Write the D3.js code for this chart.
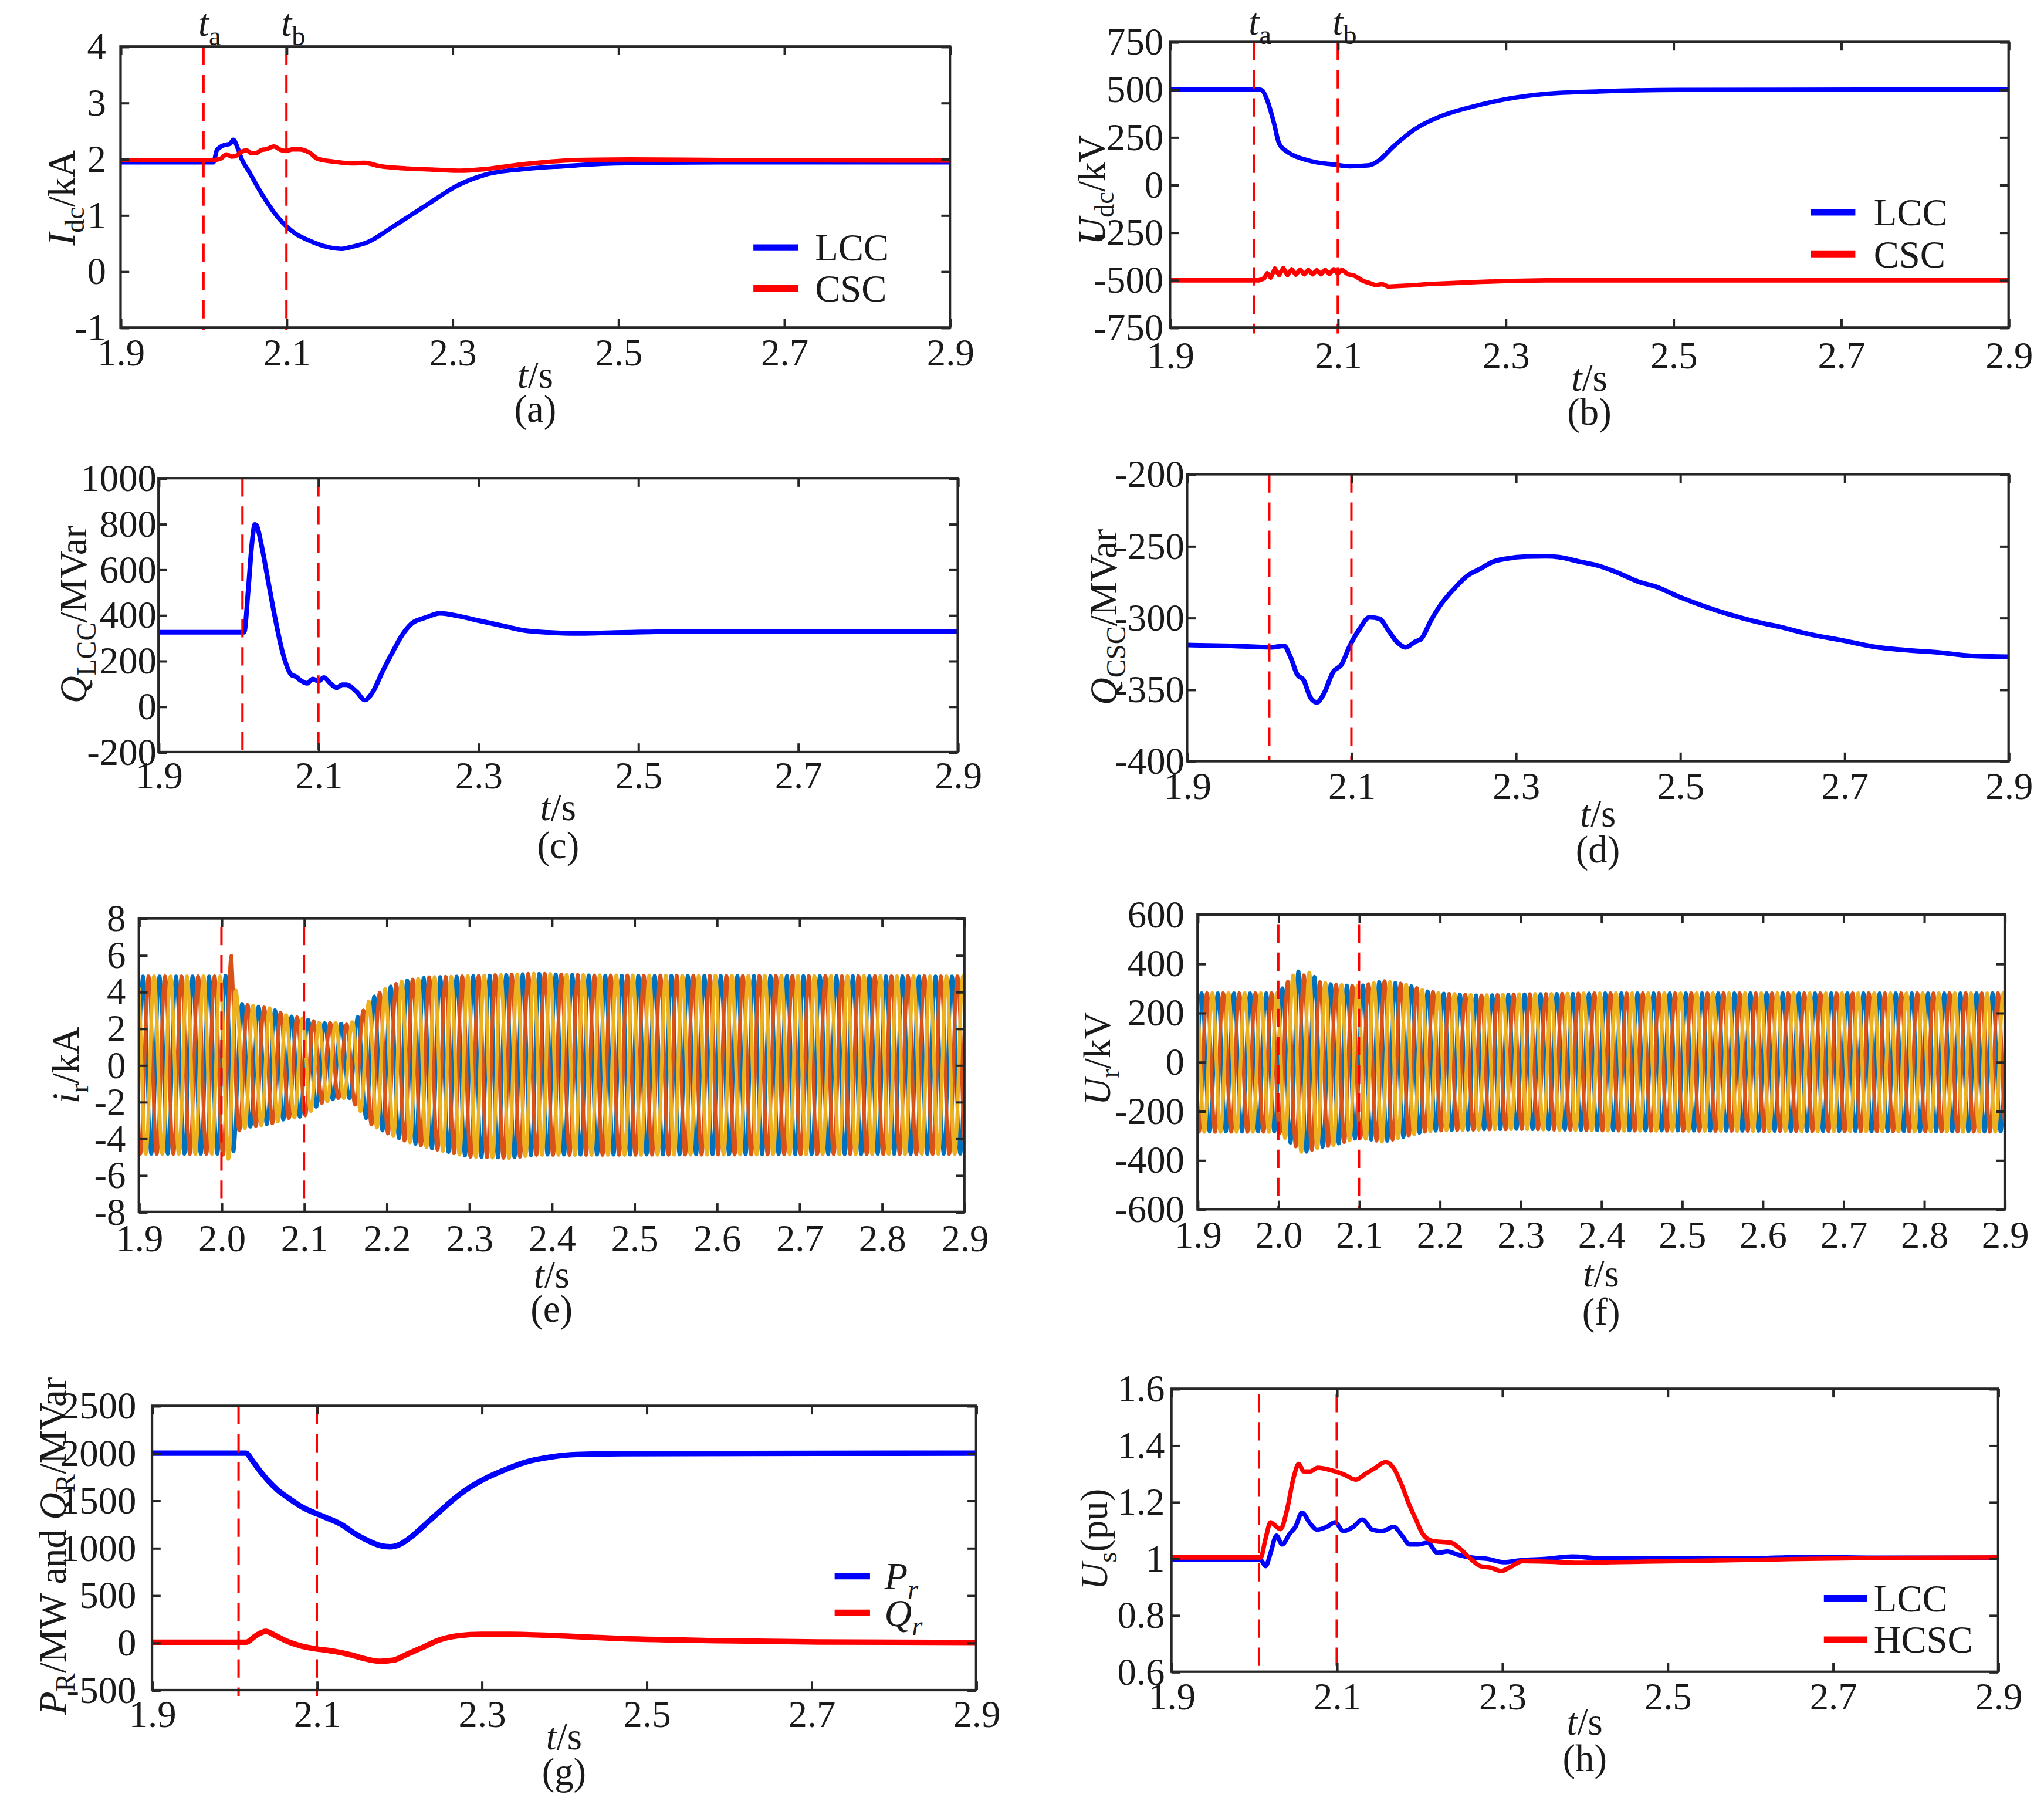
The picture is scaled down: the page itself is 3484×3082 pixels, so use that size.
<!DOCTYPE html>
<html>
<head>
<meta charset="utf-8">
<script src="https://cdn.jsdelivr.net/npm/d3@7"></script>
<style>
body { margin: 0; background: #fff; }
svg { display: block; }
text { font-family: "Liberation Serif", "Times New Roman", serif; fill: #1a1a1a; }
</style>
</head>
<body>
<script>

// ---- data ----
var xTicksWide = [1.9, 2.1, 2.3, 2.5, 2.7, 2.9];
var xTicksFine = [1.9, 2.0, 2.1, 2.2, 2.3, 2.4, 2.5, 2.6, 2.7, 2.8, 2.9];

var yTicksA = [-1, 0, 1, 2, 3, 4];
var yTicksB = [-750, -500, -250, 0, 250, 500, 750];
var yTicksC = [-200, 0, 200, 400, 600, 800, 1000];
var yTicksD = [-400, -350, -300, -250, -200];
var yTicksE = [-8, -6, -4, -2, 0, 2, 4, 6, 8];
var yTicksF = [-600, -400, -200, 0, 200, 400, 600];
var yTicksG = [-500, 0, 500, 1000, 1500, 2000, 2500];
var yTicksH = [0.6, 0.8, 1.0, 1.2, 1.4, 1.6];

var faultMarks = [2.0, 2.1];
var faultMarksLate = [2.005, 2.1];

// (a) DC current, kA
var idcLCC = [[1.9,1.94],[2.012,1.94],[2.016,2.15],[2.024,2.24],[2.032,2.27],[2.036,2.34],[2.041,2.2],
  [2.046,2.0],[2.055,1.77],[2.071,1.36],[2.085,1.05],[2.1,0.8],[2.111,0.67],[2.127,0.55],[2.145,0.45],
  [2.166,0.40],[2.18,0.44],[2.198,0.52],[2.229,0.80],[2.269,1.18],[2.308,1.54],[2.34,1.72],[2.387,1.82],
  [2.434,1.87],[2.497,1.92],[2.624,1.94],[2.9,1.94]];
var idcCSC = [[1.9,1.98],[2.012,1.98],[2.02,2.0],[2.028,2.08],[2.034,2.04],[2.04,2.06],[2.046,2.13],
  [2.052,2.15],[2.058,2.10],[2.063,2.10],[2.07,2.16],[2.075,2.17],[2.085,2.22],[2.093,2.16],[2.1,2.14],
  [2.107,2.17],[2.115,2.17],[2.127,2.12],[2.138,2.0],[2.158,1.95],[2.178,1.92],[2.194,1.93],[2.213,1.87],
  [2.245,1.83],[2.276,1.81],[2.308,1.79],[2.34,1.82],[2.371,1.88],[2.41,1.94],[2.45,1.98],[2.513,1.99],
  [2.624,1.98],[2.9,1.97]];

// (b) DC voltage, kV
var udcLCC = [[1.9,500],[2.006,500],[2.01,495],[2.016,442],[2.024,322],[2.03,217],[2.04,172],[2.052,145],
  [2.067,125],[2.083,112],[2.098,105],[2.114,97],[2.1375,102],[2.149,127],[2.165,195],[2.192,292],
  [2.223,360],[2.2625,412],[2.3016,450],[2.348,477],[2.411,490],[2.505,498],[2.9,500]];
var udcCSC = [[1.9,-502],[2.006,-502],[2.012,-492],[2.016,-465],[2.02,-488],[2.025,-440],[2.03,-475],
  [2.035,-438],[2.04,-474],[2.045,-444],[2.05,-472],[2.055,-446],[2.06,-470],[2.065,-448],[2.07,-470],
  [2.075,-449],[2.08,-470],[2.085,-447],[2.09,-469],[2.095,-444],[2.1,-466],[2.105,-446],[2.112,-470],
  [2.12,-478],[2.13,-505],[2.137,-515],[2.145,-528],[2.153,-522],[2.16,-535],[2.173,-532],[2.19,-528],
  [2.208,-522],[2.24,-516],[2.27,-510],[2.31,-505],[2.348,-502],[2.9,-502]];

// (c) LCC reactive power, MVar
var qLCC = [[1.9,325],[2.007,325],[2.0123,515],[2.017,720],[2.0205,797],[2.023,790],[2.029,703],
  [2.037,552],[2.045,402],[2.055,239],[2.066,139],[2.072,130],[2.078,113],[2.086,101],[2.093,120],
  [2.1,111],[2.107,126],[2.115,101],[2.123,82],[2.13,95],[2.135,95],[2.148,63],[2.158,28],[2.168,63],
  [2.18,151],[2.193,239],[2.205,314],[2.217,364],[2.234,389],[2.252,408],[2.275,396],[2.299,377],
  [2.332,352],[2.357,333],[2.389,324],[2.422,320],[2.48,324],[2.561,329],[2.684,329],[2.9,327]];

// (d) CSC reactive power, MVar
var qCSC = [[1.9,-319],[1.954,-319.6],[2.002,-320.6],[2.018,-319.6],[2.026,-327.6],[2.034,-339.6],
  [2.042,-343.6],[2.05,-355.5],[2.058,-359],[2.066,-353.5],[2.078,-337.6],[2.088,-332.6],[2.098,-319.6],
  [2.11,-307.7],[2.122,-299.7],[2.134,-300.7],[2.146,-309.7],[2.155,-316.6],[2.166,-320.6],[2.178,-316.6],
  [2.185,-314.7],[2.197,-301.7],[2.209,-290.7],[2.225,-279.8],[2.241,-270.8],[2.257,-265.8],[2.273,-260.8],
  [2.289,-258.8],[2.313,-257.4],[2.337,-257.2],[2.353,-257.8],[2.377,-260.8],[2.401,-263.8],[2.425,-268.8],
  [2.449,-274.8],[2.473,-278.8],[2.496,-284.7],[2.528,-291.7],[2.56,-297.7],[2.592,-302.7],[2.624,-306.7],
  [2.656,-311.3],[2.696,-315.6],[2.736,-320.2],[2.776,-322.6],[2.815,-324.2],[2.855,-326.6],[2.9,-327.2]];

// (e) AC current envelope, kA
var irTime  = [1.9, 2.0, 2.006, 2.012, 2.02, 2.03, 2.06, 2.08, 2.1, 2.12, 2.14, 2.155, 2.17, 2.18, 2.2, 2.22, 2.25, 2.3, 2.35, 2.38, 2.45, 2.9];
var irUpper = [4.85, 4.85, 4.9, 6.0, 3.4, 3.3, 3.1, 2.7, 2.55, 2.3, 2.3, 2.2, 2.85, 3.6, 4.2, 4.6, 4.8, 4.86, 4.94, 5.0, 4.9, 4.85];
var irLower = [-4.85, -4.85, -5.0, -5.3, -3.6, -3.4, -3.2, -2.9, -2.8, -2.1, -1.8, -1.8, -2.6, -3.2, -3.7, -4.1, -4.5, -5.0, -5.07, -4.9, -4.9, -4.85];

// (f) AC voltage envelope, kV
var urTime  = [1.9, 2.0, 2.015, 2.024, 2.03, 2.04, 2.05, 2.07, 2.1, 2.13, 2.16, 2.18, 2.2, 2.25, 2.3, 2.4, 2.9];
var urUpper = [280, 280, 340, 373, 350, 367, 326, 315, 309, 330, 315, 291, 280, 271, 276, 280, 280];
var urLower = [-285, -285, -330, -350, -373, -361, -350, -338, -309, -326, -303, -285, -280, -276, -274, -280, -285];

var gridHz = 50;

// (g) rectifier active / reactive power
var pR = [[1.9,2000],[2.014,2000],[2.022,1917],[2.03,1824],[2.042,1700],[2.053,1607],[2.065,1530],
  [2.081,1437],[2.1,1360],[2.113,1313],[2.129,1251],[2.145,1158],[2.161,1081],[2.177,1025],[2.189,1012],
  [2.2,1034],[2.216,1127],[2.232,1251],[2.248,1375],[2.264,1499],[2.28,1607],[2.304,1731],[2.328,1824],
  [2.352,1902],[2.383,1958],[2.415,1986],[2.47,1995],[2.9,2000]];
var qR = [[1.9,5],[2.014,5],[2.026,74],[2.038,120],[2.05,74],[2.065,11],[2.081,-35],[2.1,-66],[2.121,-91],
  [2.141,-128],[2.161,-175],[2.177,-196],[2.193,-184],[2.208,-128],[2.228,-51],[2.248,27],[2.272,74],
  [2.3,89],[2.336,89],[2.391,74],[2.471,43],[2.59,21],[2.709,8],[2.9,2]];

// (h) AC bus voltage, pu
var usLCC = [[1.9,0.995],[2.008,0.995],[2.014,0.973],[2.02,1.02],[2.027,1.081],[2.034,1.05],[2.043,1.087],
  [2.05,1.112],[2.058,1.162],[2.068,1.123],[2.076,1.102],[2.088,1.112],[2.098,1.128],[2.108,1.097],
  [2.12,1.112],[2.131,1.138],[2.143,1.102],[2.155,1.097],[2.169,1.112],[2.179,1.081],[2.188,1.05],
  [2.199,1.05],[2.21,1.056],[2.222,1.02],[2.234,1.025],[2.246,1.014],[2.262,1.004],[2.282,0.999],
  [2.302,0.987],[2.322,0.994],[2.353,0.999],[2.385,1.007],[2.417,1.001],[2.472,1.0],[2.591,1.0],
  [2.67,1.006],[2.75,1.003],[2.9,1.003]];
var usHCSC = [[1.9,1.004],[2.008,1.004],[2.014,1.071],[2.02,1.128],[2.024,1.12],[2.032,1.104],[2.04,1.174],
  [2.048,1.288],[2.054,1.334],[2.06,1.308],[2.068,1.308],[2.077,1.321],[2.092,1.313],[2.108,1.298],
  [2.123,1.279],[2.135,1.3],[2.147,1.321],[2.159,1.341],[2.169,1.319],[2.179,1.257],[2.187,1.195],
  [2.195,1.143],[2.204,1.087],[2.215,1.063],[2.226,1.059],[2.238,1.056],[2.248,1.038],[2.262,0.999],
  [2.274,0.973],[2.286,0.968],[2.299,0.956],[2.31,0.97],[2.325,0.991],[2.353,0.989],[2.393,0.985],
  [2.432,0.987],[2.512,0.991],[2.591,0.995],[2.67,0.999],[2.75,1.002],[2.9,1.004]];

// ---- drawing ----
var W = 1560, H = 1380;
var FS = 29, TICK = 6.6;
var BLUE = "#0000ff", RED = "#ff0000", FRAME = "#262626";
var phaseColors = ["#0072bd", "#d95319", "#edb120"];

var svg = d3.select("body").append("svg")
    .attr("width", 3484)
    .attr("height", 3082)
    .attr("viewBox", "0 0 " + W + " " + H);

svg.append("rect").attr("width", W).attr("height", H).attr("fill", "#fff");

var clipId = 0;

// writes text made of pieces: {t, it, sub}
function rich(textSel, parts, fs) {
  var down = false;
  parts.forEach(function(p) {
    var ts = textSel.append("tspan").text(p.t);
    if (p.it) ts.style("font-style", "italic");
    if (p.sub && !down) { ts.attr("dy", fs * 0.24); down = true; }
    else if (!p.sub && down) { ts.attr("dy", -fs * 0.24); down = false; }
    if (p.sub) ts.style("font-size", (fs * 0.72) + "px");
  });
  return textSel;
}

function makePanel(p) {
  var x = d3.scaleLinear().domain([1.9, 2.9]).range([p.left, p.right]);
  var y = d3.scaleLinear().domain(p.yDomain).range([p.bottom, p.top]);
  var g = svg.append("g");

  var cid = "clip" + (clipId++);
  g.append("clipPath").attr("id", cid)
    .append("rect")
      .attr("x", p.left).attr("y", p.top)
      .attr("width", p.right - p.left).attr("height", p.bottom - p.top);

  var plot = g.append("g").attr("clip-path", "url(#" + cid + ")");

  (p.series || []).forEach(function(s) {
    var line = d3.line()
        .x(function(d) { return x(d[0]); })
        .y(function(d) { return y(d[1]); })
        .curve(s.curve || d3.curveMonotoneX);
    plot.append("path")
        .datum(s.data)
        .attr("d", line)
        .attr("fill", "none")
        .attr("stroke", s.color)
        .attr("stroke-width", s.width)
        .attr("stroke-linejoin", "round")
        .attr("stroke-linecap", "round");
  });

  // fault instants
  g.selectAll(".mark")
    .data(p.marks)
    .enter().append("line")
      .attr("x1", function(d) { return x(d); })
      .attr("x2", function(d) { return x(d); })
      .attr("y1", p.top + (p.markTop || 0))
      .attr("y2", p.bottom + (p.markBottom || 0))
      .attr("stroke", RED)
      .attr("stroke-width", 1.8)
      .attr("stroke-dasharray", "14,7.5");

  var fmtX = function(d) { return d.toFixed(1); };
  var fmtY = function(d) { return String(+d.toFixed(2)); };

  var axB = d3.axisBottom(x).tickValues(p.xTicks).tickSizeInner(-TICK).tickSizeOuter(0)
      .tickPadding(p.xTickBase - 0.71 * FS).tickFormat(fmtX);
  var axT = d3.axisTop(x).tickValues(p.xTicks).tickSizeInner(-TICK).tickSizeOuter(0).tickFormat("");
  var axL = d3.axisLeft(y).tickValues(p.yTicks).tickSizeInner(-TICK).tickSizeOuter(0)
      .tickPadding(p.yPad).tickFormat(fmtY);
  var axR = d3.axisRight(y).tickValues(p.yTicks).tickSizeInner(-TICK).tickSizeOuter(0).tickFormat("");

  [[axB, "translate(0," + p.bottom + ")"], [axT, "translate(0," + p.top + ")"],
   [axL, "translate(" + p.left + ",0)"], [axR, "translate(" + p.right + ",0)"]].forEach(function(a) {
    var ag = g.append("g").attr("transform", a[1]).attr("color", FRAME).call(a[0]);
    ag.select(".domain").remove();
    ag.selectAll("line").attr("stroke-width", 1.8);
    ag.selectAll("text")
        .style("font-family", '"Liberation Serif", "Times New Roman", serif')
        .style("font-size", FS + "px")
        .attr("fill", "#1a1a1a");
  });

  g.append("rect")
      .attr("x", p.left).attr("y", p.top)
      .attr("width", p.right - p.left).attr("height", p.bottom - p.top)
      .attr("fill", "none")
      .attr("stroke", FRAME)
      .attr("stroke-width", 1.9);

  // y label
  rich(g.append("text")
      .attr("transform", "translate(" + p.yLabel.x + "," + p.yLabel.y + ") rotate(-90)")
      .attr("text-anchor", "middle")
      .style("font-size", FS + "px"), p.yLabel.parts, FS);

  // x label and caption
  var cx = (p.left + p.right) / 2;
  rich(g.append("text")
      .attr("x", cx).attr("y", p.xLabelY)
      .attr("text-anchor", "middle")
      .style("font-size", FS + "px"), [{t: "t", it: true}, {t: "/s"}], FS);
  g.append("text")
      .attr("x", cx).attr("y", p.captionY)
      .attr("text-anchor", "middle")
      .style("font-size", FS + "px")
      .text("(" + p.id + ")");

  // legend
  if (p.legend) {
    p.legend.items.forEach(function(it, i) {
      var ly = p.legend.y[i];
      g.append("line")
          .attr("x1", p.legend.x0).attr("x2", p.legend.x1)
          .attr("y1", ly).attr("y2", ly)
          .attr("stroke", it.color).attr("stroke-width", 5);
      rich(g.append("text")
          .attr("x", p.legend.tx).attr("y", ly + 10)
          .style("font-size", FS + "px"), it.parts, FS);
    });
  }

  // t_a / t_b tags
  if (p.tags) {
    p.tags.forEach(function(tag, i) {
      rich(g.append("text")
          .attr("x", x(p.marks[i]) - 4)
          .attr("y", p.top - p.tagGap)
          .style("font-size", FS + "px"), [{t: "t", it: true}, {t: tag, sub: true}], FS);
    });
  }

  return {x: x, y: y, plot: plot};
}

// three phase waveform from the read envelope
function threePhase(times, upper, lower) {
  var up = d3.scaleLinear().domain(times).range(upper);
  var lo = d3.scaleLinear().domain(times).range(lower);
  var ts = d3.range(1.9, 2.9002, 0.0004);
  return [0, -2 * Math.PI / 3, 2 * Math.PI / 3].map(function(ph) {
    return ts.map(function(t) {
      var m = (up(t) + lo(t)) / 2, a = (up(t) - lo(t)) / 2;
      return [t, m + a * Math.sin(2 * Math.PI * gridHz * t + ph)];
    });
  });
}

makePanel({
  id: "a", left: 92, right: 725, top: 35.5, bottom: 250,
  yDomain: [-1, 4], yTicks: yTicksA, xTicks: xTicksWide, yPad: 11, xTickBase: 29,
  xLabelY: 296, captionY: 322,
  marks: faultMarks, markBottom: 2, tags: ["a", "b"], tagGap: 8,
  series: [
    {data: idcLCC, color: BLUE, width: 3.4},
    {data: idcCSC, color: RED, width: 3.4}
  ],
  yLabel: {x: 57, y: 151, parts: [{t: "I", it: true}, {t: "dc", sub: true}, {t: "/kA"}]},
  legend: {x0: 575, x1: 609, tx: 622, y: [189, 220],
    items: [{color: BLUE, parts: [{t: "LCC"}]}, {color: RED, parts: [{t: "CSC"}]}]}
});

makePanel({
  id: "b", left: 893, right: 1533, top: 32, bottom: 250,
  yDomain: [-750, 750], yTicks: yTicksB, xTicks: xTicksWide, yPad: 5, xTickBase: 31,
  xLabelY: 298, captionY: 324,
  marks: faultMarks, markBottom: 4.5, tags: ["a", "b"], tagGap: 5.5,
  series: [
    {data: udcLCC, color: BLUE, width: 3.4},
    {data: udcCSC, color: RED, width: 3.4, curve: d3.curveLinear}
  ],
  yLabel: {x: 843, y: 145, parts: [{t: "U", it: true}, {t: "dc", sub: true}, {t: "/kV"}]},
  legend: {x0: 1382, x1: 1416, tx: 1430, y: [162, 194],
    items: [{color: BLUE, parts: [{t: "LCC"}]}, {color: RED, parts: [{t: "CSC"}]}]}
});

makePanel({
  id: "c", left: 121, right: 731, top: 365, bottom: 574,
  yDomain: [-200, 1000], yTicks: yTicksC, xTicks: xTicksWide, yPad: 1.5, xTickBase: 28,
  xLabelY: 626, captionY: 655,
  marks: faultMarksLate,
  series: [{data: qLCC, color: BLUE, width: 3.6}],
  yLabel: {x: 66, y: 469, parts: [{t: "Q", it: true}, {t: "LCC", sub: true}, {t: "/MVar"}]}
});

makePanel({
  id: "d", left: 906, right: 1533, top: 362, bottom: 581,
  yDomain: [-400, -200], yTicks: yTicksD, xTicks: xTicksWide, yPad: 2, xTickBase: 29,
  xLabelY: 631, captionY: 658,
  marks: faultMarks,
  series: [{data: qCSC, color: BLUE, width: 3.6}],
  yLabel: {x: 852, y: 471, parts: [{t: "Q", it: true}, {t: "CSC", sub: true}, {t: "/MVar"}]}
});

var irWaves = threePhase(irTime, irUpper, irLower);
makePanel({
  id: "e", left: 106, right: 736, top: 701, bottom: 925,
  yDomain: [-8, 8], yTicks: yTicksE, xTicks: xTicksFine, yPad: 10, xTickBase: 30,
  xLabelY: 983, captionY: 1009,
  marks: faultMarks, markTop: 6.5, markBottom: -6.5,
  series: irWaves.map(function(w, i) {
    return {data: w, color: phaseColors[i], width: 2.7, curve: d3.curveLinear};
  }),
  yLabel: {x: 60, y: 813, parts: [{t: "i", it: true}, {t: "r", sub: true}, {t: "/kA"}]}
});

var urWaves = threePhase(urTime, urUpper, urLower);
makePanel({
  id: "f", left: 914, right: 1530, top: 698, bottom: 923,
  yDomain: [-600, 600], yTicks: yTicksF, xTicks: xTicksFine, yPad: 10, xTickBase: 29.6,
  xLabelY: 982, captionY: 1011,
  marks: faultMarks, markTop: 7.5, markBottom: -1,
  series: urWaves.map(function(w, i) {
    return {data: w, color: phaseColors[i], width: 2.7, curve: d3.curveLinear};
  }),
  yLabel: {x: 847, y: 808, parts: [{t: "U", it: true}, {t: "r", sub: true}, {t: "/kV"}]}
});

makePanel({
  id: "g", left: 116, right: 745, top: 1073, bottom: 1290,
  yDomain: [-500, 2500], yTicks: yTicksG, xTicks: xTicksWide, yPad: 12, xTickBase: 28,
  xLabelY: 1335, captionY: 1362,
  marks: faultMarksLate, markBottom: 4.5,
  series: [
    {data: pR, color: BLUE, width: 4.2},
    {data: qR, color: RED, width: 4.2}
  ],
  yLabel: {x: 50, y: 1180, parts: [{t: "P", it: true}, {t: "R", sub: true}, {t: "/MW and "},
    {t: "Q", it: true}, {t: "R", sub: true}, {t: "/MVar"}]},
  legend: {x0: 637, x1: 664, tx: 675, y: [1203, 1231],
    items: [{color: BLUE, parts: [{t: "P", it: true}, {t: "r", it: true, sub: true}]},
            {color: RED, parts: [{t: "Q", it: true}, {t: "r", it: true, sub: true}]}]}
});

makePanel({
  id: "h", left: 894, right: 1525, top: 1060, bottom: 1276,
  yDomain: [0.6, 1.6], yTicks: yTicksH, xTicks: xTicksWide, yPad: 5, xTickBase: 29,
  xLabelY: 1324, captionY: 1352,
  marks: [2.006, 2.1], markTop: 4,
  series: [
    {data: usLCC, color: BLUE, width: 3.4},
    {data: usHCSC, color: RED, width: 3.4}
  ],
  yLabel: {x: 845, y: 1175, parts: [{t: "U", it: true}, {t: "s", sub: true}, {t: "(pu)"}]},
  legend: {x0: 1392, x1: 1425, tx: 1430, y: [1220, 1251.5],
    items: [{color: BLUE, parts: [{t: "LCC"}]}, {color: RED, parts: [{t: "HCSC"}]}]}
});

</script>
</body>
</html>
